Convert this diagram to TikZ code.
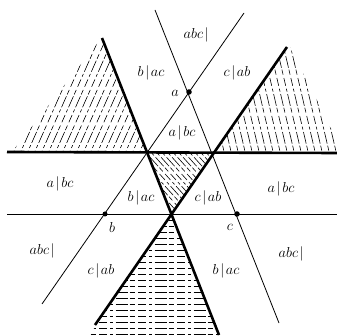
\documentclass[tikz,border=0pt]{standalone}
\begin{document}
\begin{tikzpicture}[x=1pt,y=-1pt,
  thickln/.style={line width=2.6pt},
  thinln/.style={line width=0.8pt},
  hatch/.style={line width=0.6pt, dash pattern=on 8pt off 3pt on 3pt off 2.5pt on 12pt off 2pt on 5pt off 3.5pt},
  lab/.style={inner sep=0pt, font=\fontsize{15}{17}\selectfont},
  dot/.style={circle, fill=black, inner sep=0pt, minimum size=5.5pt}]
\newcommand{\pl}[2]{$#1\mkern2mu|\mkern2mu#2$}
\useasboundingbox (0,0) rectangle (337,336);
% key points
\coordinate (P1) at (147,153);
\coordinate (P2) at (213,153);
\coordinate (P3) at (171,215);
\coordinate (L2t) at (102,38);
\coordinate (L2b) at (219,335);
\coordinate (L3t) at (287,47);
\coordinate (L3b) at (95,325);
\coordinate (Hl) at (7,152);
\coordinate (Hr) at (337,153);
\coordinate (hl) at (7,214);
\coordinate (hr) at (337,214);
\coordinate (Bt) at (244,13);
\coordinate (Bb) at (42,304);
\coordinate (Ct) at (155,10);
\coordinate (Cb) at (279,323);
% hatching: upper left
\begin{scope}
\clip (12,152) -- (97,44) -- (102,38) -- (147,153) -- cycle;
\foreach \x in {-80,-73,...,170} \draw[hatch] (\x,158) -- ++(60,-135);
\end{scope}
% upper right
\begin{scope}
\clip (213,153) -- (287,47) -- (290,47) -- (337,140) -- (337,153) -- cycle;
\foreach \x in {170,177,...,340} \draw[hatch] (\x,40) -- ++(28,120);
\end{scope}
% centre
\begin{scope}
\clip (P1) -- (P2) -- (P3) -- cycle;
\foreach \x in {40,45.5,...,230} \draw[hatch] (\x,145) -- ++(72,80);
\end{scope}
% bottom
\begin{scope}
\clip (P3) -- (89,336) -- (220,336) -- cycle;
\foreach \y in {220,226,...,336} \draw[hatch] (60,\y) -- (240,\y);
\end{scope}
% thin lines
\draw[thinln] (hl) -- (hr);
\draw[thinln] (Bt) -- (Bb);
\draw[thinln] (Ct) -- (Cb);
% thick lines
\draw[thickln] (Hl) -- (Hr);
\draw[thickln] (L2t) -- (L2b);
\draw[thickln] (L3t) -- (L3b);
% points
\node[dot] (a) at (189,92) {};
\node[dot, minimum size=5pt] (b) at (105,214) {};
\node[dot] (c) at (237,214) {};
% labels
\node[lab] (la) at (175,93) {$a$};
\node[lab] (lb) at (112,228) {$b$};
\node[lab] (lc) at (230,227) {$c$};
\node[lab] (t1) at (197,35) {\pl{abc}{}};
\node[lab] (t2) at (151,73) {\pl{b}{ac}};
\node[lab] (t3) at (237,73) {\pl{c}{ab}};
\node[lab] (t4) at (182,133) {\pl{a}{bc}};
\node[lab] (t5) at (60,184) {\pl{a}{bc}};
\node[lab] (t6) at (141,198) {\pl{b}{ac}};
\node[lab] (t7) at (208,198) {\pl{c}{ab}};
\node[lab] (t8) at (281,189) {\pl{a}{bc}};
\node[lab] (t9) at (43,251) {\pl{abc}{}};
\node[lab] (t10) at (101,271) {\pl{c}{ab}};
\node[lab] (t11) at (226,271) {\pl{b}{ac}};
\node[lab] (t12) at (292,254) {\pl{abc}{}};
\end{tikzpicture}
\end{document}
